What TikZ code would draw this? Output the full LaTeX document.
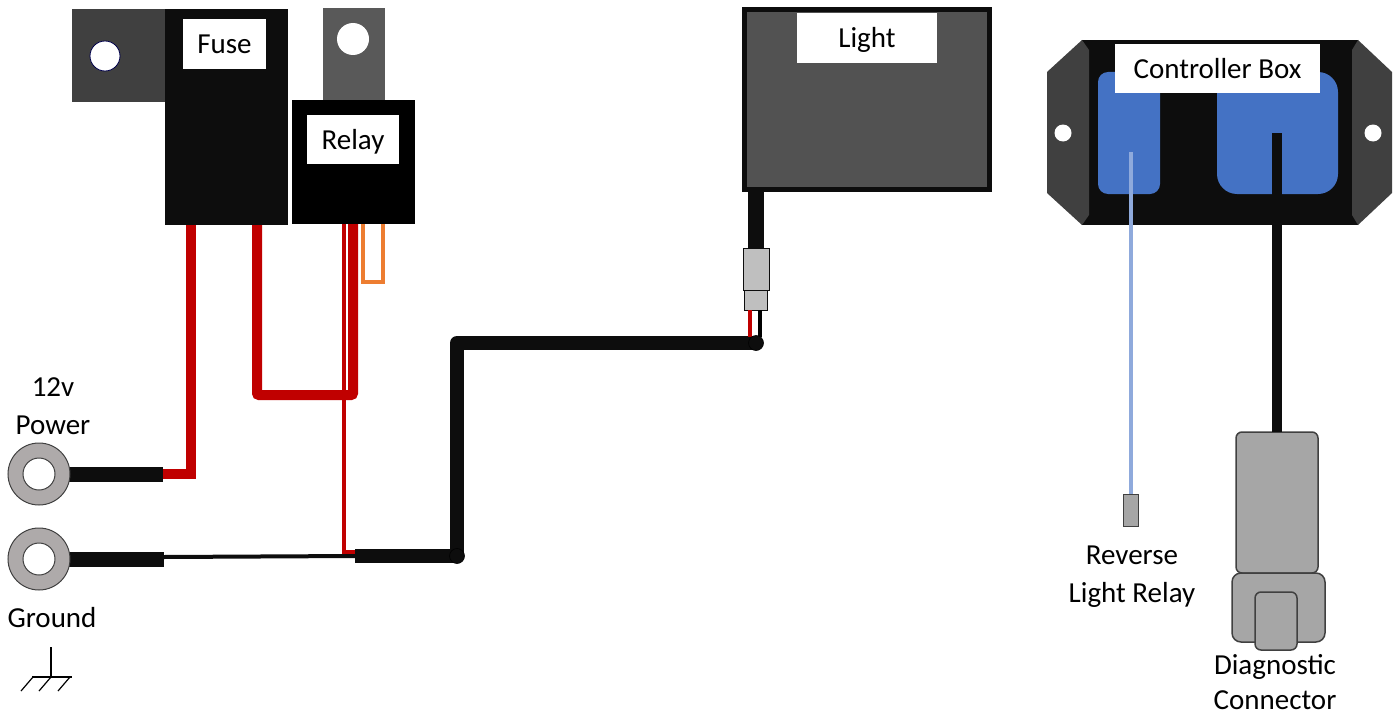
\documentclass[tikz,border=0pt]{standalone}
\usepackage{fontspec}
\setmainfont{Carlito}
\usetikzlibrary{positioning}
\definecolor{wred}{HTML}{C00000}
\definecolor{worange}{HTML}{ED7D31}
\definecolor{padblue}{HTML}{4472C4}
\definecolor{wblue}{HTML}{8FAADC}
\definecolor{plate}{HTML}{404040}
\definecolor{tabgrey}{HTML}{595959}
\definecolor{lampgrey}{HTML}{525252}
\definecolor{ringgrey}{HTML}{AEAAAA}
\definecolor{pluggrey}{HTML}{A6A6A6}
\definecolor{sleeve}{HTML}{BFBFBF}
\definecolor{nearblack}{HTML}{0D0D0D}

\begin{document}
\begin{tikzpicture}[x=1pt, y=-1pt,
  block/.style={inner sep=0pt, outer sep=0pt, anchor=north west},
  tag/.style={fill=white, inner sep=0pt, text height=19pt, text depth=0pt, font=\fontsize{29}{38}\selectfont},
  txt/.style={align=center, inner sep=0pt, font=\fontsize{29}{38}\selectfont},
  cable/.style={nearblack, line width=14pt, line join=round},
  redwire/.style={wred, line width=10pt},
  lead/.style={line width=4pt},
  part/.style={block, fill=pluggrey, draw=plate, line width=1.5pt}]
\useasboundingbox (0,0) rectangle (1395,717);

\coordinate (pwrend) at (163,474);
\coordinate (gndend) at (164,557);
\coordinate (gj) at (355,556);
\coordinate (bend) at (457,556);
\coordinate (corner) at (457,343);
\coordinate (junc) at (756,343);

\node[block, fill=plate, minimum width=93, minimum height=93] (bracket) at (72,9) {};
\node[block, fill=nearblack, minimum width=123, minimum height=216] (fuse) at (165,9) {};
\draw[fill=white, draw=blue!30!black, line width=0.8pt] (105,56) circle (15pt);
\node[tag, minimum width=83, minimum height=50] (fusetag) at (224.5,44) {Fuse};

\node[block, fill=tabgrey, minimum width=62, minimum height=92] (tab) at (323,8) {};
\fill[white] (353,39) circle (16pt);
\node[block, fill=black, minimum width=123, minimum height=124] (relay) at (292,100) {};
\node[tag, minimum width=92, minimum height=49] (relaytag) at (353,139.5) {Relay};

\draw[redwire] (pwrend) -| ([xshift=26pt]fuse.south west);
\draw[redwire, rounded corners=2pt] ([xshift=92pt]fuse.south west) |- ([xshift=61pt,yshift=-171pt]relay.south west) -- ([xshift=61pt]relay.south west);
\draw[wred, lead] ([xshift=52pt]relay.south west) |- ([yshift=4pt]gj);
\draw[worange, lead] ([xshift=71pt]relay.south west) -- ++(0,58) -| ([xshift=91pt]relay.south west);

\foreach \n/\y/\e in {pwr/474/pwrend, gnd/559/gndend}{
  \draw[nearblack, line width=15pt] (39,\y) -- (\e |- 0,\y);
  \node[circle, fill=ringgrey, draw=plate, line width=1pt, minimum size=62, inner sep=0pt] (\n) at (39,\y) {};
  \draw[fill=white, draw=plate, line width=1pt] (\n) circle (16pt);
}
\draw[nearblack, lead] (gndend) -- (gj);
\draw[cable] (gj) -- (bend) -- (corner) -- (junc);

\node[block, fill=lampgrey, draw=nearblack, line width=5pt, minimum width=245, minimum height=180] (light) at (744.5,9.5) {};
\node[tag, minimum width=140, minimum height=50] (lighttag) at (867,38) {Light};
\node[block, fill=sleeve, draw=nearblack, line width=1pt, minimum width=26, minimum height=42] (sleeveA) at (743,248) {};
\node[block, fill=sleeve, draw=nearblack, line width=1pt, minimum width=23, minimum height=20] (sleeveB) at (744,290) {};
\draw[nearblack, line width=16pt] (sleeveA.north) -- (sleeveA.north |- light.south);
\draw[wred, lead] ([xshift=-5.5pt]sleeveB.south) -- ([xshift=-6pt,yshift=6pt]junc);
\draw[black, lead] ([xshift=4.5pt]sleeveB.south) -- ([xshift=4pt,yshift=6pt]junc);
\foreach \c in {bend, junc}
  \draw[fill=nearblack, draw=black, line width=0.6pt] (\c) circle (7.5pt);

\node[block, fill=nearblack, minimum width=276, minimum height=185] (ctrl) at (1082,40) {};
\fill[plate] (1082,40) -- (1047,72) -- (1047,193) -- (1082,225) -- (1089,215) -- (1089,50) -- cycle;
\fill[plate] (1358,40) -- (1392,72) -- (1392,193) -- (1358,225) -- (1352,215) -- (1352,50) -- cycle;
\foreach \x in {1063,1373}
  \fill[white] (\x,133) circle (8.5pt);
\node[block, fill=padblue, rounded corners=10pt, minimum width=62, minimum height=122] (padl) at (1098,72) {};
\node[block, fill=padblue, rounded corners=20pt, minimum width=121, minimum height=122] (padr) at (1217,72) {};
\node[tag, minimum width=205, minimum height=49] (ctrltag) at (1217.5,68.5) {Controller Box};

\node[block, fill=pluggrey, draw=plate, line width=1pt, minimum width=15, minimum height=32] (revplug) at (1123,494) {};
\draw[wblue, lead] (revplug.north |- 0,152) -- (revplug.north);
\node[part, rounded corners=6pt, minimum width=82, minimum height=141] (diagbody) at (1236,432) {};
\node[part, rounded corners=9pt, minimum width=93, minimum height=69] (diagbase) at (1232,573) {};
\node[part, rounded corners=6pt, minimum width=42, minimum height=58] (diagtab) at (1255,592) {};
\draw[nearblack, line width=10pt] (diagbody.north |- 0,133) -- (diagbody.north);

\node[txt] (pwrtxt) at (53,406) {12v\\Power};
\node[txt] (gndtxt) at (52,618) {Ground};
\node[txt] (revtxt) at (1132,577) {Reverse\\Light Relay};
\node[txt] (diagtxt) at (1275,682) {Diagnostic\\[-3pt]Connector};
\draw[line width=1.2pt] (51,647) -- (51,677) (32,677) -- (72,677);
\foreach \x in {21,39,58}
  \draw[line width=1.2pt] (\x,691) -- ++(12,-14);
\end{tikzpicture}
\end{document}
